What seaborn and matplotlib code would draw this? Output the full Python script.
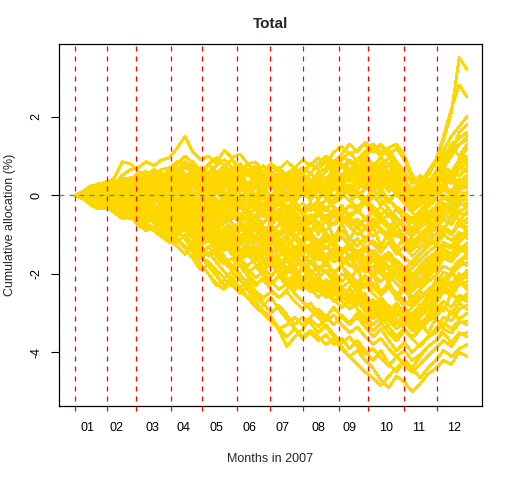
import numpy as np
import pandas as pd
import matplotlib
matplotlib.use("Agg")
import matplotlib.pyplot as plt
import seaborn as sns

# ---------------- data (read/estimated from the reference) ----------------
# trading-day index of each knot (every 5 trading days of 2007)
days = list(range(1, 252, 5))
# trading-day positions of the month boundaries (red dashed lines)
month_starts = [1, 21, 40, 62, 82, 104, 125, 146, 169, 188, 211, 232]
# positions of the month labels
month_label_pos = [9, 27, 50, 70, 91, 112, 133, 156, 176, 199, 220, 243]
month_labels = ["01", "02", "03", "04", "05", "06", "07", "08", "09", "10", "11", "12"]
y_ticks = [-4, -2, 0, 2]

# cumulative allocation paths (%), one list per simulated path
paths = [
    [0, 0.08, 0.15, 0.12, 0.25, 0.35, 0.45, 0.4, 0.55, 0.6, 0.5, 0.65, 0.7,
     0.85, 0.75, 0.6, 0.7, 0.55, 0.75, 0.9, 0.7, 0.8, 0.6, 0.7, 0.5, 0.6,
     0.45, 0.55, 0.7, 0.9, 0.75, 0.95, 0.8, 1.1, 1.25, 1.05, 1.15, 1.3,
     1.1, 1.25, 1.0, 1.2, 0.9, 0.4, 0.3, 0.5, 0.8, 1.4, 2.1, 3.5, 3.2],
    [0, 0.05, 0.2, 0.25, 0.35, 0.3, 0.5, 0.65, 0.7, 0.85, 0.75, 0.9, 0.95,
     1.2, 1.5, 1.1, 0.9, 1.0, 0.8, 1.15, 0.95, 1.05, 0.8, 0.85, 0.6, 0.75,
     0.6, 0.4, 0.6, 0.45, 0.3, 0.5, 0.4, 0.65, 0.8, 0.6, 0.9, 1.1,
     1.3, 1.1, 1.2, 1.3, 1.0, 0.5, 0.3, 0.6, 0.9, 1.5, 2.2, 2.8, 2.5],
    [0, 0.1, 0.25, 0.2, 0.3, 0.45, 0.85, 0.8, 0.6, 0.5, 0.65, 0.55, 0.45,
     0.6, 0.5, 0.35, 0.5, 0.4, 0.6, 0.5, 0.7, 0.55, 0.8, 0.6, 0.75, 0.55,
     0.7, 0.5, 0.3, 0.5, 0.35, 0.55, 0.7, 0.6, 0.45, 0.65, 0.5, 0.7,
     0.55, 0.8, 0.6, 0.45, 0.3, 0.1, 0.2, 0.05, 0.3, 0.8, 1.1, 1.6, 1.8],
    [0, -0.05, 0.1, 0.2, 0.15, 0.3, 0.25, 0.4, 0.3, 0.5, 0.6, 0.45, 0.55,
     0.5, 0.7, 0.85, 0.6, 0.8, 0.55, 0.6, 0.4, 0.5, 0.3, 0.45, 0.3, 0.2,
     0.35, 0.2, 0.4, 0.3, 0.55, 0.4, 0.6, 0.8, 0.7, 0.9, 0.75, 0.6,
     0.8, 0.65, 0.4, 0.55, 0.2, -0.1, 0.1, 0.25, 0.5, 0.7, 1.0, 1.3, 1.5],
    [0, 0.1, 0.05, 0.2, 0.1, 0.25, 0.2, 0.15, 0.3, 0.2, 0.35, 0.5, 0.4,
     0.55, 0.4, 0.25, 0.4, 0.2, 0.35, 0.15, 0.3, 0.1, 0.25, 0.4, 0.2, 0.3,
     0.1, 0.25, 0.05, 0.2, 0.0, 0.15, -0.05, 0.2, 0.35, 0.1, 0.3, 0.5,
     0.35, 0.15, 0.3, 0.0, -0.2, -0.35, -0.1, 0.1, 0.3, 0.6, 0.5, 0.9, 1.2],
    [0, 0.05, 0.0, 0.1, 0.05, 0.15, 0.0, 0.1, 0.2, 0.1, 0.3, 0.2, 0.25,
     0.4, 0.3, 0.1, 0.3, 0.5, 0.3, 0.45, 0.6, 0.4, 0.55, 0.35, 0.2, 0.35,
     0.2, 0.05, 0.25, 0.1, 0.3, 0.5, 0.35, 0.6, 0.9, 1.1, 0.85, 1.0,
     1.2, 1.0, 1.15, 0.85, 0.6, 0.3, 0.45, 0.2, 0.5, 0.9, 1.2, 1.0, 1.3],
    [0, -0.05, 0.05, -0.1, 0.0, 0.1, 0.0, -0.1, 0.05, 0.15, 0.0, 0.2, 0.1,
     0.3, 0.15, 0.4, 0.2, 0.05, 0.2, 0.0, 0.15, -0.1, 0.05, 0.2, 0.0, -0.15,
     0.05, 0.2, 0.0, 0.3, 0.15, -0.05, 0.1, 0.3, 0.1, 0.25, 0.0, 0.15,
     0.3, 0.05, -0.2, 0.1, -0.15, -0.4, -0.25, -0.1, 0.1, 0.3, 0.5, 0.7, 0.8],
    [0, 0.05, 0.1, 0.0, 0.15, 0.05, -0.1, 0.05, -0.05, -0.2, -0.1, 0.05, 0.15,
     0.0, 0.2, 0.35, 0.15, -0.05, 0.1, 0.25, 0.05, 0.2, 0.0, -0.2, -0.05, -0.25,
     -0.1, -0.3, -0.15, 0.05, -0.1, 0.1, 0.0, -0.2, -0.05, 0.2, 0.05, -0.15,
     0.0, -0.25, -0.1, -0.35, -0.55, -0.7, -0.5, -0.3, -0.1, 0.2, 0.1, 0.35, 0.5],
    [0, -0.05, -0.1, 0.0, -0.15, -0.05, -0.2, -0.1, 0.0, -0.15, -0.05, -0.2, -0.3,
     -0.15, 0.05, -0.1, -0.35, -0.2, -0.4, -0.25, -0.05, -0.2, 0.0, -0.15, -0.3, -0.1,
     -0.25, -0.05, -0.2, -0.4, -0.2, -0.35, -0.1, -0.3, -0.5, -0.25, -0.4, -0.2,
     -0.45, -0.3, -0.55, -0.35, -0.6, -0.85, -0.6, -0.45, -0.3, 0.0, -0.1, 0.15, 0.2],
    [0, 0.05, -0.05, 0.05, 0.1, 0.0, 0.1, 0.2, 0.05, 0.15, 0.0, -0.1, 0.05,
     -0.1, -0.3, -0.1, 0.1, -0.05, -0.2, -0.35, -0.15, -0.3, -0.5, -0.35, -0.55, -0.4,
     -0.6, -0.45, -0.3, -0.5, -0.7, -0.5, -0.65, -0.45, -0.3, -0.5, -0.35, -0.6,
     -0.4, -0.65, -0.85, -0.6, -0.8, -1.0, -0.8, -0.65, -0.5, -0.2, -0.35, -0.1, 0.0],
    [0, -0.1, -0.05, -0.15, -0.1, -0.2, -0.1, -0.25, -0.35, -0.2, -0.3, -0.45, -0.35,
     -0.5, -0.3, -0.45, -0.6, -0.4, -0.55, -0.7, -0.5, -0.6, -0.4, -0.55, -0.7, -0.5,
     -0.65, -0.85, -0.6, -0.75, -0.55, -0.7, -0.9, -0.7, -0.5, -0.65, -0.85, -0.6,
     -0.8, -0.55, -0.75, -0.95, -1.1, -1.3, -1.05, -0.9, -0.7, -0.5, -0.6, -0.4, -0.3],
    [0, 0.0, 0.1, 0.05, -0.05, 0.05, 0.15, 0.05, 0.2, 0.1, -0.05, 0.1, 0.0,
     -0.2, -0.05, -0.3, -0.5, -0.3, -0.15, -0.35, -0.6, -0.45, -0.7, -0.55, -0.8, -0.95,
     -0.75, -0.9, -1.1, -0.85, -1.0, -1.2, -0.95, -1.15, -0.9, -1.1, -1.3, -1.05,
     -1.25, -1.45, -1.2, -1.4, -1.6, -1.75, -1.5, -1.3, -1.15, -0.9, -1.0, -0.75, -0.6],
    [0, -0.05, -0.15, -0.1, -0.2, -0.3, -0.2, -0.35, -0.25, -0.4, -0.5, -0.35, -0.5,
     -0.65, -0.45, -0.3, -0.55, -0.7, -0.5, -0.65, -0.85, -0.7, -0.9, -1.05, -0.85, -1.0,
     -1.2, -1.0, -0.8, -1.0, -1.15, -1.35, -1.15, -1.3, -1.5, -1.3, -1.45, -1.7,
     -1.5, -1.7, -1.9, -1.65, -1.85, -2.05, -1.8, -1.6, -1.45, -1.2, -1.3, -1.05, -0.9],
    [0, 0.05, 0.0, -0.1, -0.05, -0.2, -0.3, -0.15, -0.3, -0.45, -0.6, -0.5, -0.7,
     -0.55, -0.75, -0.9, -1.1, -0.9, -1.05, -0.85, -1.0, -1.2, -1.0, -1.15, -1.35, -1.2,
     -1.4, -1.6, -1.35, -1.5, -1.3, -1.45, -1.65, -1.45, -1.6, -1.8, -1.6, -1.75,
     -1.95, -1.75, -1.9, -2.1, -2.3, -2.15, -2.35, -2.1, -1.9, -1.6, -1.7, -1.4, -1.2],
    [0, -0.1, -0.2, -0.15, -0.3, -0.25, -0.4, -0.5, -0.35, -0.5, -0.65, -0.55, -0.8,
     -0.95, -0.8, -1.0, -1.3, -1.15, -1.35, -1.2, -1.4, -1.55, -1.35, -1.5, -1.7, -1.5,
     -1.65, -1.85, -1.6, -1.8, -2.0, -1.8, -1.95, -2.2, -2.0, -2.15, -2.35, -2.1,
     -2.3, -2.55, -2.3, -2.5, -2.7, -2.85, -2.6, -2.4, -2.25, -1.95, -2.05, -1.7, -1.5],
    [0, -0.05, -0.1, -0.2, -0.15, -0.3, -0.45, -0.35, -0.55, -0.7, -0.55, -0.75, -0.9,
     -1.05, -0.85, -1.1, -1.5, -1.3, -1.55, -1.75, -1.6, -1.8, -2.0, -1.8, -2.05, -2.25,
     -2.05, -2.3, -2.1, -2.35, -2.2, -2.45, -2.3, -2.55, -2.4, -2.65, -2.8, -2.6,
     -2.85, -3.05, -2.8, -3.0, -3.2, -3.35, -3.1, -2.9, -2.75, -2.45, -2.55, -2.2, -2.0],
    [0, -0.1, -0.15, -0.25, -0.35, -0.3, -0.45, -0.6, -0.5, -0.7, -0.85, -0.75, -1.0,
     -1.15, -1.35, -1.6, -1.9, -1.75, -2.0, -2.3, -2.1, -2.35, -2.6, -2.45, -2.75, -3.0,
     -2.8, -3.05, -3.3, -3.1, -3.25, -3.5, -3.3, -3.55, -3.75, -3.6, -3.85, -4.05,
     -3.9, -4.15, -4.35, -4.1, -4.3, -4.5, -4.3, -4.1, -3.9, -3.7, -3.85, -3.55, -3.5],
    [0, -0.05, -0.2, -0.3, -0.25, -0.4, -0.55, -0.45, -0.65, -0.8, -0.9, -1.05, -1.2,
     -1.1, -1.3, -1.45, -1.8, -2.0, -2.3, -2.15, -2.3, -2.5, -2.3, -2.55, -2.8, -2.6,
     -2.9, -3.15, -3.4, -3.6, -3.45, -3.6, -3.8, -3.65, -3.9, -4.1, -3.95, -4.2,
     -4.4, -4.7, -4.9, -4.6, -4.75, -5.0, -4.8, -4.55, -4.4, -4.2, -4.3, -4.0, -4.1],
    [0, -0.1, -0.25, -0.35, -0.3, -0.45, -0.6, -0.55, -0.75, -0.9, -0.8, -1.0, -1.15,
     -1.3, -1.5, -1.35, -1.55, -1.7, -1.9, -2.1, -1.95, -2.15, -2.4, -2.7, -3.0, -3.2,
     -3.4, -3.6, -3.4, -3.65, -3.5, -3.7, -3.55, -3.8, -3.65, -3.9, -3.7, -3.95,
     -4.2, -3.95, -4.3, -4.5, -4.2, -4.4, -4.65, -4.4, -4.2, -3.95, -4.1, -3.9, -3.8],
    [0, -0.05, -0.15, -0.05, -0.2, -0.3, -0.2, -0.4, -0.5, -0.4, -0.6, -0.75, -0.6,
     -0.8, -0.65, -0.9, -1.2, -1.0, -1.25, -1.4, -1.25, -1.5, -1.35, -1.6, -1.85, -1.7,
     -1.95, -2.2, -2.0, -2.25, -2.4, -2.2, -2.45, -2.3, -2.55, -2.75, -2.5, -2.7,
     -2.95, -3.2, -2.95, -3.15, -3.4, -3.6, -3.35, -3.15, -3.0, -2.7, -2.85, -2.55, -2.6],
    [0, 0.0, -0.1, -0.2, -0.1, -0.25, -0.15, -0.3, -0.2, -0.35, -0.5, -0.4, -0.55,
     -0.7, -0.6, -0.45, -0.75, -0.95, -0.8, -1.0, -1.2, -1.05, -1.25, -1.45, -1.3, -1.55,
     -1.75, -1.55, -1.8, -1.65, -1.9, -2.1, -1.9, -2.15, -2.35, -2.2, -2.45, -2.25,
     -2.5, -2.7, -2.95, -2.75, -3.0, -3.2, -3.0, -2.8, -2.65, -2.4, -2.5, -2.2, -2.3],
    [0, -0.05, 0.0, -0.1, -0.2, -0.15, -0.3, -0.2, -0.1, -0.25, -0.4, -0.3, -0.45,
     -0.3, -0.5, -0.7, -0.9, -0.75, -0.6, -0.8, -0.95, -0.8, -1.0, -0.85, -1.05, -1.25,
     -1.1, -1.3, -1.5, -1.3, -1.45, -1.65, -1.5, -1.7, -1.55, -1.75, -1.95, -1.8,
     -2.0, -2.2, -2.0, -2.25, -2.45, -2.6, -2.4, -2.2, -2.05, -1.8, -1.9, -1.65, -1.8],
    [0, 0.1, 0.2, 0.3, 0.25, 0.4, 0.3, 0.45, 0.35, 0.5, 0.4, 0.3, 0.45,
     0.6, 0.85, 0.6, 0.35, 0.5, 0.3, 0.15, 0.3, 0.1, 0.25, 0.0, 0.15, -0.1,
     0.05, -0.15, 0.05, 0.25, 0.1, -0.1, 0.1, -0.05, 0.2, 0.0, 0.15, 0.35,
     0.2, 0.4, 0.55, 0.3, 0.0, -0.3, -0.15, 0.0, 0.2, 0.5, 0.35, 0.2, 0.3],
    [0, -0.05, 0.05, -0.05, 0.05, -0.1, 0.0, 0.1, 0.0, -0.15, -0.05, -0.2, -0.1,
     -0.25, -0.05, 0.1, -0.2, -0.4, -0.25, -0.45, -0.3, -0.5, -0.35, -0.2, -0.4, -0.6,
     -0.45, -0.65, -0.5, -0.7, -0.9, -0.7, -0.55, -0.75, -0.6, -0.8, -1.0, -0.85,
     -1.05, -0.9, -1.1, -1.3, -1.15, -1.35, -1.15, -0.95, -0.8, -0.6, -0.7, -0.45, -0.5],
    [0, 0.05, -0.05, -0.15, -0.05, -0.2, -0.1, -0.25, -0.4, -0.3, -0.45, -0.3, -0.2,
     -0.35, -0.2, -0.45, -0.7, -0.55, -0.4, -0.6, -0.45, -0.65, -0.85, -0.7, -0.9, -0.75,
     -0.95, -0.8, -1.0, -1.2, -1.0, -1.15, -1.35, -1.2, -1.4, -1.25, -1.45, -1.6,
     -1.4, -1.6, -1.8, -2.0, -1.8, -2.0, -1.85, -1.65, -1.5, -1.25, -1.35, -1.1, -1.0],
    [0, -0.05, -0.15, -0.25, -0.2, -0.35, -0.5, -0.4, -0.6, -0.5, -0.7, -0.85, -1.0,
     -0.9, -1.1, -1.3, -1.6, -1.45, -1.7, -1.95, -2.15, -2.35, -2.6, -2.85, -3.0, -3.15,
     -3.45, -3.85, -3.6, -3.4, -3.15, -3.35, -3.1, -3.3, -3.05, -3.25, -3.0, -3.2,
     -3.45, -3.25, -3.5, -3.7, -3.45, -3.65, -3.4, -3.2, -3.1, -2.85, -3.0, -2.75, -2.9],
    [0, -0.05, -0.1, -0.2, -0.3, -0.2, -0.35, -0.5, -0.4, -0.55, -0.7, -0.6, -0.8,
     -0.95, -0.8, -1.05, -1.3, -1.5, -1.35, -1.6, -1.8, -1.65, -1.9, -2.1, -1.95, -2.2,
     -2.4, -2.25, -2.5, -2.7, -2.9, -3.1, -3.35, -3.6, -3.85, -4.1, -4.3, -4.5,
     -4.65, -4.85, -4.6, -4.4, -4.2, -4.4, -4.1, -3.85, -3.7, -3.4, -3.5, -3.25, -3.2],
    [0, 0.05, 0.1, 0.2, 0.1, 0.2, 0.35, 0.25, 0.4, 0.3, 0.15, 0.3, 0.2,
     0.35, 0.2, 0.0, -0.3, -0.15, -0.35, -0.2, -0.4, -0.25, -0.45, -0.6, -0.45, -0.65,
     -0.5, -0.7, -0.9, -0.75, -0.95, -0.8, -1.0, -1.2, -1.05, -1.25, -1.45, -1.3,
     -1.5, -1.7, -1.5, -1.75, -1.95, -2.15, -1.95, -1.75, -1.6, -1.35, -1.5, -1.3, -1.5],
    [0, -0.1, -0.05, -0.15, -0.25, -0.15, -0.3, -0.45, -0.35, -0.5, -0.4, -0.55, -0.7,
     -0.55, -0.75, -0.95, -1.25, -1.1, -1.3, -1.15, -1.35, -1.55, -1.4, -1.6, -1.45, -1.65,
     -1.85, -1.65, -1.9, -2.1, -1.9, -2.1, -2.3, -2.1, -2.35, -2.55, -2.35, -2.6,
     -2.8, -2.6, -2.85, -3.05, -2.85, -3.1, -2.9, -2.65, -2.5, -2.2, -2.35, -2.05, -2.0],
    [0, 0.0, 0.05, -0.05, 0.0, 0.1, 0.2, 0.1, 0.25, 0.15, 0.3, 0.4, 0.3,
     0.45, 0.3, 0.5, 0.2, 0.4, 0.55, 0.4, 0.6, 0.45, 0.65, 0.5, 0.35, 0.5,
     0.35, 0.2, 0.4, 0.55, 0.4, 0.25, 0.45, 0.3, 0.5, 0.7, 0.5, 0.3,
     0.5, 0.35, 0.1, 0.25, 0.0, -0.2, 0.0, 0.15, 0.35, 0.6, 0.5, 0.8, 0.9],
    [0, -0.05, 0.0, 0.05, 0.0, -0.1, 0.0, -0.15, -0.05, -0.2, -0.1, -0.25, -0.4,
     -0.3, -0.5, -0.8, -1.1, -0.95, -1.15, -1.0, -1.2, -1.05, -1.25, -1.45, -1.25, -1.4,
     -1.2, -1.4, -1.6, -1.4, -1.25, -1.45, -1.3, -1.5, -1.7, -1.5, -1.65, -1.85,
     -1.65, -1.9, -2.1, -1.85, -2.05, -2.3, -2.1, -1.9, -1.75, -1.45, -1.6, -1.35, -1.3],
    [0, 0.05, 0.0, 0.1, 0.0, -0.1, -0.2, -0.1, -0.25, -0.15, 0.0, -0.15, -0.05,
     0.1, -0.1, -0.3, -0.15, 0.05, -0.1, -0.3, -0.15, 0.0, -0.2, -0.35, -0.2, -0.05,
     -0.25, -0.4, -0.25, -0.5, -0.3, -0.15, -0.35, -0.15, 0.05, -0.15, -0.3, -0.1,
     -0.3, -0.5, -0.35, -0.55, -0.75, -0.95, -0.7, -0.5, -0.35, -0.05, -0.2, 0.1, 0.0],
    [0, -0.05, -0.1, -0.05, -0.15, -0.05, -0.2, -0.3, -0.2, -0.35, -0.45, -0.3, -0.45,
     -0.6, -0.45, -0.65, -0.85, -1.0, -0.85, -1.05, -1.2, -1.05, -1.25, -1.1, -1.3, -1.5,
     -1.3, -1.5, -1.35, -1.55, -1.7, -1.5, -1.3, -1.5, -1.35, -1.55, -1.4, -1.6,
     -1.4, -1.6, -1.45, -1.7, -1.9, -1.7, -1.5, -1.3, -1.15, -0.9, -1.0, -0.75, -0.8],
    [0, 0.05, 0.1, 0.05, 0.15, 0.05, 0.15, 0.3, 0.2, 0.35, 0.25, 0.1, 0.25,
     0.1, 0.3, 0.45, 0.25, 0.1, 0.25, 0.05, -0.1, 0.05, -0.15, 0.0, 0.15, 0.0,
     0.2, 0.05, -0.1, 0.1, 0.3, 0.15, 0.35, 0.55, 0.4, 0.6, 0.45, 0.7,
     0.55, 0.75, 0.95, 0.7, 0.4, 0.1, -0.1, 0.1, 0.3, 0.55, 0.4, 0.7, 0.6],
    [0, -0.1, -0.2, -0.3, -0.2, -0.3, -0.2, -0.35, -0.5, -0.65, -0.5, -0.7, -0.85,
     -0.7, -0.9, -1.1, -0.95, -1.15, -1.35, -1.2, -1.4, -1.6, -1.8, -1.6, -1.85, -2.05,
     -1.85, -2.1, -2.3, -2.15, -2.35, -2.15, -2.4, -2.25, -2.5, -2.7, -2.5, -2.75,
     -2.95, -2.75, -3.0, -3.25, -3.05, -3.25, -3.0, -2.8, -2.6, -2.35, -2.45, -2.25, -2.2],
    [0, 0.05, 0.15, 0.1, 0.2, 0.3, 0.2, 0.35, 0.45, 0.35, 0.5, 0.4, 0.55,
     0.7, 0.55, 0.35, 0.6, 0.8, 0.6, 0.4, 0.55, 0.35, 0.15, 0.3, 0.1, 0.25,
     0.05, 0.2, 0.35, 0.2, 0.05, 0.2, 0.0, 0.15, 0.35, 0.2, 0.4, 0.25,
     0.45, 0.25, 0.45, 0.2, -0.05, -0.25, -0.05, 0.15, 0.35, 0.7, 0.6, 0.9, 1.0],
    [0, -0.05, -0.1, -0.05, -0.15, -0.25, -0.35, -0.25, -0.4, -0.3, -0.45, -0.6, -0.5,
     -0.65, -0.8, -0.65, -0.9, -1.1, -1.3, -1.15, -1.35, -1.2, -1.4, -1.6, -1.45, -1.7,
     -1.9, -2.15, -2.35, -2.15, -2.35, -2.6, -2.4, -2.65, -2.85, -2.65, -2.9, -3.1,
     -3.3, -3.1, -3.35, -3.6, -3.4, -3.65, -3.85, -3.6, -3.4, -3.1, -3.2, -2.9, -2.8],
    [0, 0.0, -0.05, 0.05, -0.05, 0.05, -0.05, 0.0, -0.15, -0.05, -0.2, -0.1, -0.25,
     -0.15, -0.35, -0.2, -0.45, -0.3, -0.5, -0.65, -0.5, -0.7, -0.55, -0.75, -0.95, -0.8,
     -1.0, -0.85, -1.05, -0.9, -1.1, -1.3, -1.1, -1.3, -1.5, -1.35, -1.55, -1.4,
     -1.6, -1.8, -1.6, -1.85, -2.05, -1.85, -1.65, -1.45, -1.3, -1.0, -1.15, -0.95, -1.1],
    [0, 0.05, 0.0, 0.1, 0.2, 0.15, 0.3, 0.2, 0.35, 0.25, 0.4, 0.3, 0.45,
     0.6, 0.45, 0.3, 0.5, 0.35, 0.55, 0.75, 0.6, 0.8, 0.65, 0.45, 0.6, 0.4,
     0.55, 0.35, 0.5, 0.7, 0.55, 0.8, 1.0, 0.85, 1.05, 1.3, 1.1, 1.35,
     1.15, 1.3, 1.05, 0.8, 0.55, 0.3, 0.5, 0.3, 0.6, 0.95, 1.3, 1.45, 1.6],
    [0, -0.05, -0.15, -0.1, -0.2, -0.35, -0.25, -0.45, -0.6, -0.5, -0.7, -0.9, -1.05,
     -1.2, -1.0, -1.25, -1.55, -1.8, -2.05, -2.3, -2.15, -2.4, -2.6, -2.75, -2.95, -3.1,
     -3.4, -3.3, -3.1, -3.3, -3.1, -2.9, -3.1, -2.85, -3.1, -3.3, -3.1, -3.35,
     -3.6, -3.4, -3.7, -3.95, -3.75, -4.0, -3.8, -3.6, -3.5, -3.25, -3.4, -3.2, -3.3],
    [0, 0.05, -0.05, 0.1, 0.0, 0.15, 0.05, 0.25, 0.1, 0.3, 0.15, 0.35, 0.2,
     0.45, 0.15, 0.5, 0.25, 0.6, 0.3, 0.55, 0.2, 0.45, 0.1, 0.35, 0.05, 0.3,
     -0.05, 0.25, -0.1, 0.2, -0.15, 0.3, 0.05, 0.45, 0.15, 0.6, 0.25, 0.5,
     0.1, 0.55, 0.2, 0.4, -0.1, 0.15, -0.2, 0.05, 0.3, 0.1, 0.55, 0.2, 0.4],
    [0, -0.05, 0.05, -0.1, 0.05, -0.15, 0.0, -0.2, 0.05, -0.25, -0.05, -0.3, -0.1,
     -0.4, -0.05, -0.45, -0.15, -0.6, -0.25, -0.5, -0.2, -0.65, -0.3, -0.75, -0.35, -0.8,
     -0.4, -0.85, -0.5, -0.95, -0.55, -1.0, -0.6, -1.1, -0.7, -1.15, -0.75, -1.2,
     -0.8, -1.3, -0.9, -1.4, -1.0, -1.35, -0.95, -1.2, -0.7, -0.9, -0.45, -0.65, -0.4],
    [0, -0.1, 0.0, -0.15, -0.05, -0.25, -0.1, -0.35, -0.15, -0.45, -0.25, -0.5, -0.3,
     -0.65, -0.4, -0.8, -0.5, -0.95, -0.7, -1.1, -0.8, -1.25, -0.95, -1.4, -1.05, -1.5,
     -1.2, -1.65, -1.35, -1.8, -1.45, -1.95, -1.6, -2.05, -1.75, -2.2, -1.85, -2.35,
     -2.0, -2.5, -2.2, -2.65, -2.35, -2.75, -2.45, -2.6, -2.15, -2.4, -1.95, -2.2, -1.9],
    [0, 0.1, 0.0, 0.2, 0.05, 0.25, 0.1, 0.35, 0.2, 0.45, 0.25, 0.5, 0.3,
     0.65, 0.35, 0.75, 0.45, 0.8, 0.4, 0.7, 0.3, 0.65, 0.25, 0.55, 0.2, 0.5,
     0.15, 0.45, 0.1, 0.5, 0.2, 0.6, 0.3, 0.75, 0.45, 0.9, 0.6, 1.05,
     0.7, 1.0, 0.55, 0.85, 0.35, 0.55, 0.15, 0.4, 0.25, 0.6, 0.45, 0.95, 0.9],
    [0, 0.0, -0.1, 0.0, -0.15, -0.05, -0.2, -0.1, -0.3, -0.15, -0.4, -0.2, -0.45,
     -0.3, -0.6, -0.35, -0.75, -0.5, -0.9, -0.6, -1.0, -0.7, -1.1, -0.8, -1.2, -0.9,
     -1.3, -1.0, -1.45, -1.1, -1.55, -1.25, -1.7, -1.35, -1.8, -1.5, -1.95, -1.6,
     -2.05, -1.75, -2.2, -1.9, -2.35, -2.0, -2.2, -1.8, -1.95, -1.5, -1.7, -1.3, -1.4],
    [0, -0.05, -0.15, -0.1, -0.25, -0.15, -0.35, -0.25, -0.45, -0.3, -0.55, -0.4, -0.65,
     -0.5, -0.8, -0.6, -1.0, -0.75, -1.2, -0.95, -1.35, -1.1, -1.55, -1.3, -1.75, -1.45,
     -1.9, -1.6, -2.1, -1.8, -2.3, -2.0, -2.5, -2.2, -2.65, -2.35, -2.8, -2.5,
     -2.95, -2.65, -3.1, -2.85, -3.3, -3.0, -3.4, -3.05, -2.8, -2.95, -2.5, -2.7, -2.5],
    [0, 0.0, 0.1, 0.0, 0.15, 0.05, 0.2, 0.0, 0.15, -0.05, 0.1, -0.1, 0.05,
     -0.15, 0.1, -0.1, 0.2, -0.05, 0.15, -0.2, 0.05, -0.25, 0.0, -0.3, -0.05, -0.35,
     -0.1, -0.4, -0.15, -0.45, -0.2, -0.5, -0.3, -0.55, -0.25, -0.6, -0.3, -0.65,
     -0.35, -0.7, -0.45, -0.8, -0.55, -0.9, -0.6, -0.75, -0.3, -0.45, -0.05, -0.2, 0.1],
    [0, -0.05, -0.1, 0.0, -0.1, -0.2, -0.1, -0.25, -0.35, -0.2, -0.4, -0.5, -0.35,
     -0.55, -0.7, -0.5, -0.85, -1.0, -0.8, -1.1, -1.25, -1.0, -1.3, -1.45, -1.2, -1.5,
     -1.3, -1.1, -1.35, -1.15, -0.95, -1.2, -1.0, -1.25, -1.05, -1.3, -1.1, -1.35,
     -1.15, -1.4, -1.2, -1.5, -1.3, -1.55, -1.35, -1.1, -1.25, -0.9, -1.0, -0.65, -0.7],
    [0, -0.1, -0.05, -0.2, -0.1, -0.3, -0.2, -0.4, -0.3, -0.5, -0.35, -0.6, -0.45,
     -0.75, -0.6, -0.9, -0.75, -1.1, -0.9, -1.3, -1.1, -1.45, -1.25, -1.6, -1.4, -1.8,
     -1.6, -2.0, -1.8, -2.2, -2.0, -2.35, -2.15, -2.55, -2.35, -2.7, -2.5, -2.9,
     -2.7, -3.05, -2.85, -3.25, -3.05, -3.45, -3.2, -3.5, -3.15, -3.35, -2.95, -3.15, -3.0],
    [0, 0.05, 0.15, 0.1, 0.25, 0.2, 0.4, 0.3, 0.5, 0.35, 0.55, 0.45, 0.6,
     0.5, 0.75, 0.55, 0.35, 0.55, 0.3, 0.5, 0.25, 0.45, 0.2, 0.4, 0.15, 0.35,
     0.1, 0.3, 0.05, 0.25, 0.0, 0.2, -0.05, 0.15, 0.3, 0.1, 0.35, 0.15,
     0.4, 0.2, 0.45, 0.1, 0.3, -0.05, 0.15, 0.0, 0.25, 0.45, 0.3, 0.7, 0.6],
    [0, 0.05, -0.05, -0.15, -0.05, -0.2, -0.3, -0.2, -0.35, -0.25, -0.4, -0.55, -0.45,
     -0.6, -0.5, -0.75, -0.95, -0.8, -1.0, -1.15, -0.95, -1.2, -1.05, -1.3, -1.5, -1.35,
     -1.55, -1.4, -1.65, -1.85, -1.7, -1.95, -1.75, -2.0, -2.2, -2.0, -2.25, -2.1,
     -2.35, -2.55, -2.35, -2.6, -2.8, -2.6, -2.85, -2.55, -2.3, -2.1, -2.0, -1.8, -1.7],
    [0, -0.05, 0.05, 0.15, 0.05, 0.2, 0.1, 0.0, 0.15, 0.05, -0.1, 0.05, -0.05,
     0.1, -0.05, -0.2, -0.05, -0.25, -0.1, -0.3, -0.15, -0.35, -0.2, -0.05, -0.25, -0.4,
     -0.2, -0.4, -0.25, -0.45, -0.6, -0.4, -0.55, -0.35, -0.55, -0.75, -0.6, -0.8,
     -0.6, -0.85, -1.0, -0.8, -1.05, -1.2, -1.0, -0.8, -0.6, -0.4, -0.5, -0.25, -0.2],
    [0, -0.05, -0.1, -0.25, -0.15, -0.3, -0.45, -0.3, -0.5, -0.4, -0.6, -0.5, -0.7,
     -0.6, -0.85, -1.05, -1.3, -1.15, -1.4, -1.25, -1.5, -1.65, -1.5, -1.75, -1.9, -1.75,
     -2.0, -2.2, -2.05, -2.3, -2.15, -2.4, -2.6, -2.45, -2.7, -2.9, -2.7, -2.95,
     -3.15, -2.95, -3.2, -3.4, -3.2, -3.45, -3.3, -3.05, -2.9, -2.7, -2.85, -2.6, -2.7],
    [0, 0.05, 0.1, 0.2, 0.15, 0.3, 0.2, 0.35, 0.25, 0.4, 0.55, 0.45, 0.65,
     0.8, 1.0, 0.8, 0.6, 0.8, 0.95, 0.75, 0.9, 0.7, 0.5, 0.65, 0.45, 0.3,
     0.45, 0.25, 0.4, 0.2, 0.35, 0.15, 0.0, 0.2, 0.05, -0.15, 0.0, -0.2,
     -0.05, 0.15, -0.1, -0.3, -0.45, -0.6, -0.4, -0.2, 0.0, 0.25, 0.1, 0.4, 0.3],
    [0, 0.0, -0.05, 0.05, -0.05, -0.15, -0.05, -0.2, -0.1, -0.25, -0.15, -0.05, -0.2,
     -0.35, -0.2, -0.4, -0.6, -0.45, -0.65, -0.5, -0.7, -0.9, -0.7, -0.9, -1.1, -0.9,
     -1.1, -1.3, -1.1, -1.3, -1.5, -1.3, -1.55, -1.35, -1.6, -1.8, -1.6, -1.85,
     -2.05, -1.85, -2.1, -1.9, -2.15, -2.35, -2.1, -1.85, -1.65, -1.4, -1.5, -1.2, -1.0],
    [0, -0.05, -0.1, -0.05, -0.15, -0.05, -0.2, -0.1, -0.3, -0.2, -0.35, -0.25, -0.4,
     -0.3, -0.5, -0.35, -0.55, -0.75, -0.55, -0.4, -0.6, -0.45, -0.65, -0.5, -0.3, -0.5,
     -0.35, -0.55, -0.4, -0.2, -0.4, -0.2, -0.4, -0.15, 0.05, -0.15, 0.1, -0.1,
     0.15, -0.1, -0.35, -0.6, -0.85, -1.1, -1.35, -1.2, -1.0, -0.8, -0.95, -0.75, -0.9],
    [0, 0.05, 0.0, 0.1, 0.0, 0.15, 0.05, 0.2, 0.1, 0.3, 0.2, 0.35, 0.25,
     0.4, 0.3, 0.5, 0.35, 0.55, 0.4, 0.6, 0.45, 0.7, 0.55, 0.75, 0.6, 0.8,
     0.65, 0.85, 0.7, 0.9, 0.75, 0.95, 0.8, 0.6, 0.75, 0.55, 0.7, 0.9,
     0.75, 0.95, 0.8, 0.6, 0.35, 0.15, 0.35, 0.55, 0.8, 1.05, 1.2, 1.3, 1.4],
    [0, -0.1, -0.2, -0.15, -0.3, -0.25, -0.4, -0.35, -0.5, -0.45, -0.65, -0.55, -0.75,
     -0.9, -0.8, -1.0, -1.35, -1.55, -1.45, -1.7, -1.9, -1.8, -2.05, -2.25, -2.15, -2.4,
     -2.6, -2.45, -2.7, -2.9, -2.75, -3.0, -3.2, -3.05, -3.3, -3.5, -3.35, -3.6,
     -3.8, -3.65, -3.9, -4.1, -3.95, -4.2, -4.05, -3.85, -3.7, -3.5, -3.75, -3.5, -3.6],
    [0, 0.0, -0.1, -0.05, -0.2, -0.1, -0.25, -0.15, -0.3, -0.45, -0.3, -0.5, -0.65,
     -0.5, -0.7, -0.9, -1.1, -0.9, -1.05, -1.25, -1.05, -1.2, -1.0, -0.8, -1.0, -0.85,
     -1.05, -0.9, -0.7, -0.9, -0.7, -0.5, -0.7, -0.55, -0.35, -0.55, -0.4, -0.6,
     -0.45, -0.65, -0.8, -0.6, -0.85, -1.0, -0.8, -0.6, -0.45, -0.2, -0.3, -0.05, 0.0],
    [0, -0.05, -0.15, -0.05, -0.2, -0.35, -0.25, -0.4, -0.3, -0.45, -0.6, -0.5, -0.65,
     -0.8, -0.65, -0.85, -1.05, -0.9, -1.1, -1.3, -1.15, -1.35, -1.55, -1.4, -1.6, -1.8,
     -1.65, -1.85, -2.05, -1.9, -2.1, -2.3, -2.15, -2.35, -2.55, -2.4, -2.6, -2.8,
     -2.65, -2.85, -3.0, -2.8, -3.05, -2.85, -2.65, -2.45, -2.3, -2.1, -2.25, -2.0, -2.1],
    [0, 0.05, 0.1, 0.0, 0.1, 0.2, 0.1, 0.2, 0.1, 0.25, 0.15, 0.3, 0.2,
     0.35, 0.25, 0.4, 0.2, 0.35, 0.15, 0.3, 0.1, 0.25, 0.05, 0.2, 0.35, 0.2,
     0.05, 0.2, 0.35, 0.2, 0.4, 0.25, 0.45, 0.3, 0.5, 0.35, 0.55, 0.4,
     0.6, 0.45, 0.25, 0.4, 0.15, -0.05, 0.1, 0.25, 0.45, 0.35, 0.6, 0.5, 0.7],
    [0, -0.05, 0.0, -0.1, -0.2, -0.1, -0.25, -0.15, -0.3, -0.2, -0.35, -0.25, -0.45,
     -0.6, -0.45, -0.65, -0.8, -0.65, -0.85, -1.0, -0.85, -1.05, -0.9, -1.1, -1.25, -1.1,
     -1.3, -1.15, -1.35, -1.5, -1.35, -1.55, -1.7, -1.55, -1.75, -1.6, -1.8, -1.95,
     -1.8, -2.0, -2.2, -2.0, -2.25, -2.45, -2.2, -2.0, -1.85, -1.6, -1.7, -1.45, -1.3],
    [0, 0.0, 0.05, -0.05, 0.05, -0.05, 0.1, 0.0, 0.1, 0.2, 0.1, 0.2, 0.1,
     0.25, 0.1, -0.1, 0.1, 0.25, 0.1, 0.3, 0.15, 0.35, 0.2, 0.4, 0.25, 0.45,
     0.3, 0.5, 0.7, 0.55, 0.8, 0.65, 0.9, 0.75, 1.0, 0.85, 0.65, 0.8,
     0.6, 0.75, 0.5, 0.3, 0.05, -0.2, -0.05, -0.25, -0.05, 0.15, 0.0, 0.3, 0.2],
    [0, -0.05, 0.0, 0.05, -0.05, 0.05, 0.0, -0.1, 0.0, -0.15, -0.05, -0.2, -0.1,
     -0.25, -0.15, -0.35, -0.55, -0.4, -0.25, -0.45, -0.3, -0.15, -0.35, -0.2, -0.4, -0.55,
     -0.4, -0.6, -0.45, -0.65, -0.5, -0.7, -0.55, -0.75, -0.6, -0.8, -0.65, -0.85,
     -0.7, -0.9, -1.1, -0.95, -1.2, -1.4, -1.2, -1.0, -0.85, -0.6, -0.75, -0.45, -0.5],
    [0, -0.05, -0.1, -0.2, -0.3, -0.2, -0.35, -0.45, -0.35, -0.5, -0.65, -0.55, -0.75,
     -0.9, -1.1, -1.4, -1.75, -2.0, -2.25, -2.4, -2.2, -2.35, -2.15, -2.3, -2.1, -2.25,
     -2.05, -2.2, -2.4, -2.25, -2.45, -2.3, -2.5, -2.7, -2.55, -2.75, -2.6, -2.85,
     -3.05, -2.9, -3.15, -3.3, -3.1, -3.3, -3.1, -2.85, -2.65, -2.4, -2.55, -2.25, -2.3],
    [0, 0.0, 0.1, 0.05, 0.15, 0.1, 0.2, 0.15, 0.25, 0.35, 0.25, 0.4, 0.3,
     0.45, 0.35, 0.55, 0.4, 0.6, 0.45, 0.3, 0.45, 0.3, 0.15, 0.3, 0.15, 0.0,
     0.15, 0.0, 0.2, 0.05, 0.25, 0.4, 0.25, 0.45, 0.3, 0.5, 0.65, 0.5,
     0.7, 0.55, 0.75, 0.5, 0.3, 0.05, 0.25, 0.5, 0.8, 1.15, 1.5, 1.75, 2.0],
    [0, 0.05, 0.0, 0.05, 0.1, 0.0, 0.1, -0.05, 0.05, -0.1, 0.0, -0.15, -0.05,
     -0.2, -0.1, -0.25, -0.1, 0.05, -0.1, -0.25, -0.1, -0.3, -0.5, -0.35, -0.55, -0.4,
     -0.6, -0.75, -0.6, -0.8, -0.65, -0.45, -0.65, -0.5, -0.7, -0.55, -0.75, -0.6,
     -0.8, -0.65, -0.85, -1.05, -0.85, -1.05, -0.85, -0.65, -0.5, -0.3, -0.4, -0.15, -0.1],
    [0, 0.0, 0.05, -0.05, 0.0, -0.1, -0.2, -0.1, -0.2, -0.35, -0.25, -0.4, -0.3,
     -0.45, -0.6, -0.45, -0.7, -0.9, -0.75, -0.95, -0.8, -1.0, -1.2, -1.05, -1.25, -1.4,
     -1.25, -1.45, -1.65, -1.5, -1.7, -1.55, -1.75, -1.95, -1.8, -2.0, -2.2, -2.05,
     -2.25, -2.45, -2.3, -2.5, -2.35, -2.6, -2.4, -2.2, -2.05, -1.8, -1.9, -1.65, -1.6],
    [0, 0.05, 0.1, 0.05, -0.05, 0.05, -0.05, 0.05, -0.05, 0.1, 0.0, 0.1, 0.0,
     0.15, 0.05, 0.25, 0.05, -0.15, 0.05, -0.1, 0.1, -0.05, 0.1, -0.1, 0.05, -0.15,
     0.0, 0.2, 0.05, 0.25, 0.1, 0.3, 0.15, 0.35, 0.55, 0.4, 0.6, 0.45,
     0.7, 0.5, 0.3, 0.05, -0.2, -0.45, -0.6, -0.4, -0.55, -0.3, -0.45, -0.2, -0.3],
    [0, -0.05, -0.15, -0.1, -0.2, -0.15, -0.3, -0.2, -0.35, -0.5, -0.4, -0.55, -0.7,
     -0.6, -0.8, -1.0, -1.2, -1.1, -1.35, -1.55, -1.8, -2.0, -2.25, -2.45, -2.6, -2.45,
     -2.6, -2.4, -2.2, -2.4, -2.25, -2.45, -2.3, -2.5, -2.35, -2.55, -2.7, -2.55,
     -2.75, -2.95, -3.15, -2.95, -3.2, -3.0, -2.8, -2.6, -2.45, -2.2, -2.35, -2.2, -2.4],
]

for i, p in enumerate(paths):
    assert len(p) == len(days), (i, len(p))

df = pd.DataFrame(
    [(i, d, v) for i, p in enumerate(paths) for d, v in zip(days, p)],
    columns=["path", "day", "alloc"],
)

# ---------------- style ----------------
sns.set_style("ticks")
plt.rcParams["font.family"] = ["Liberation Sans", "DejaVu Sans"]
plt.rcParams["axes.unicode_minus"] = False

W, H = 512, 480
fig = plt.figure(figsize=(W / 100, H / 100), dpi=100)
fig.patch.set_facecolor("white")
left, right, top, bottom = 59.3, 481.7, 44.3, 406.3
ax = fig.add_axes([left / W, 1 - bottom / H, (right - left) / W, (bottom - top) / H])
ax.set_facecolor("white")

sns.lineplot(data=df, x="day", y="alloc", units="path", estimator=None,
             color="#FFD700", linewidth=1.3, legend=False, ax=ax, zorder=2,
             antialiased=False)

ax.set_xlim(-9.21, 260.35)
ax.set_ylim(-5.37, 3.84)

ax.axhline(0, color="#4682B4", lw=0.9, ls=(0, (4, 4)), zorder=3)
ax.vlines(month_starts, -5.49, 3.84, colors="red", lw=0.9,
          linestyles=[(0, (4, 4))], clip_on=False, zorder=4)

for s in ax.spines.values():
    s.set_color("black")
    s.set_linewidth(0.9)

ax.set_yticks(y_ticks)
ax.set_yticklabels([str(t) for t in y_ticks], rotation=90, va="center")
ax.tick_params(axis="y", length=5.5, width=0.8, pad=6.5, labelsize=9, colors="black")

ax.set_xticks(month_label_pos)
ax.set_xticklabels(month_labels)
ax.tick_params(axis="x", length=0, pad=11.0, labelsize=9, colors="black")

ax.set_xlabel("Months in 2007", fontsize=9, va="baseline")
ax.xaxis.set_label_coords(0.5, (bottom - 462) / (bottom - top))
ax.set_ylabel("Cumulative allocation (%)", fontsize=9, va="center")
ax.yaxis.set_label_coords((9.7 - left) / (right - left), 0.5)

ax.set_title("Total", fontsize=11, fontweight="bold", pad=11.5)

fig.savefig("out.png", dpi=100, facecolor="white")
